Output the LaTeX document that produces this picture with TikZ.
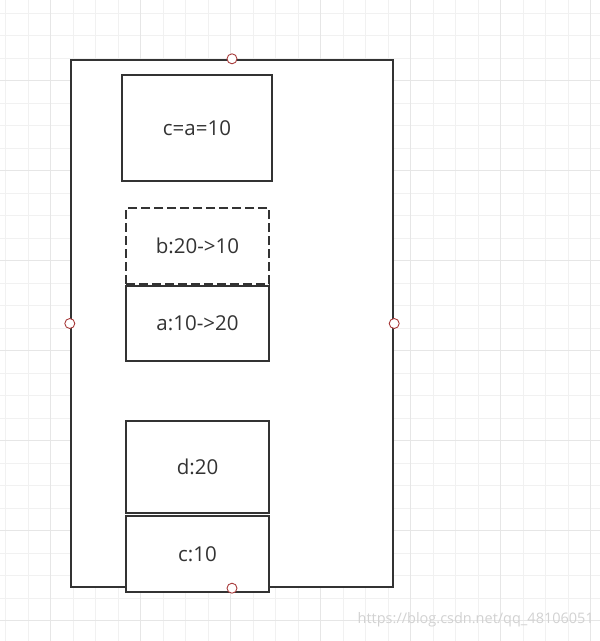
\documentclass[tikz,border=0pt]{standalone}
\usepackage{fontspec}
\setmainfont{Open Sans}
\definecolor{gridminor}{HTML}{F1F1F1}
\definecolor{gridmajor}{HTML}{E6E6E6}
\definecolor{stroke}{HTML}{333333}
\definecolor{port}{HTML}{A83C3C}
\definecolor{wm}{HTML}{D2D2D2}
\tikzset{
  membox/.style={draw=stroke, line width=2.4pt, fill=white, inner sep=0pt, font=\fontsize{20.5}{22}\selectfont, text=stroke},
  dashbox/.style={membox, dash pattern=on 9pt off 4pt},
  portpt/.style={circle, draw=port, fill=white, line width=0.9pt, minimum size=10pt, inner sep=0pt},
}
\begin{document}
\begin{tikzpicture}[x=1pt,y=-1pt]
\useasboundingbox (0,0) rectangle (600,641);
\fill[white] (0,0) rectangle (600,641);
% grid
\foreach \k in {0,...,26} {
  \draw[gridminor, line width=1.2pt] ({5.7+22.5*\k},0) -- ({5.7+22.5*\k},641);
}
\foreach \k in {-1,...,28} {
  \draw[gridminor, line width=1.2pt] (0,{13.2+22.5*\k}) -- (600,{13.2+22.5*\k});
}
\foreach \k in {0,...,6} {
  \draw[gridmajor, line width=1.2pt] ({50.7+90*\k},0) -- ({50.7+90*\k},641);
}
\foreach \k in {0,...,7} {
  \draw[gridmajor, line width=1.2pt] (0,{-9.3+90*\k}) -- (600,{-9.3+90*\k});
}
% outer frame
\node[draw=stroke, line width=2.4pt, fill=white, minimum width=322pt, minimum height=527pt, inner sep=0pt] (frame) at (232,323.5) {};
% inner boxes
\node[membox, minimum width=150pt, minimum height=106pt] (ca) at (197,128) {c=a=10};
\node[membox, minimum width=143pt, minimum height=75pt] (a) at (197.5,323.5) {a:10->20};
\node[dashbox, minimum width=143pt, minimum height=76pt] (b) at (197.5,246) {b:20->10};
\node[membox, minimum width=143pt, minimum height=92pt] (d) at (197.5,467) {d:20};
\node[membox, minimum width=143pt, minimum height=76pt] (c) at (197.5,554) {c:10};
% ports
\node[portpt] (pn) at (frame.north) {};
\node[portpt] (pw) at (frame.west) {};
\node[portpt] (pe) at (frame.east) {};
\node[portpt] (ps) at (frame.south) {};
% watermark
\node[anchor=east, text=wm, font=\fontsize{14.5}{16}\selectfont, inner sep=0pt] (wmark) at (594,620) {https://blog.csdn.net/qq\_48106051};
\end{tikzpicture}
\end{document}
